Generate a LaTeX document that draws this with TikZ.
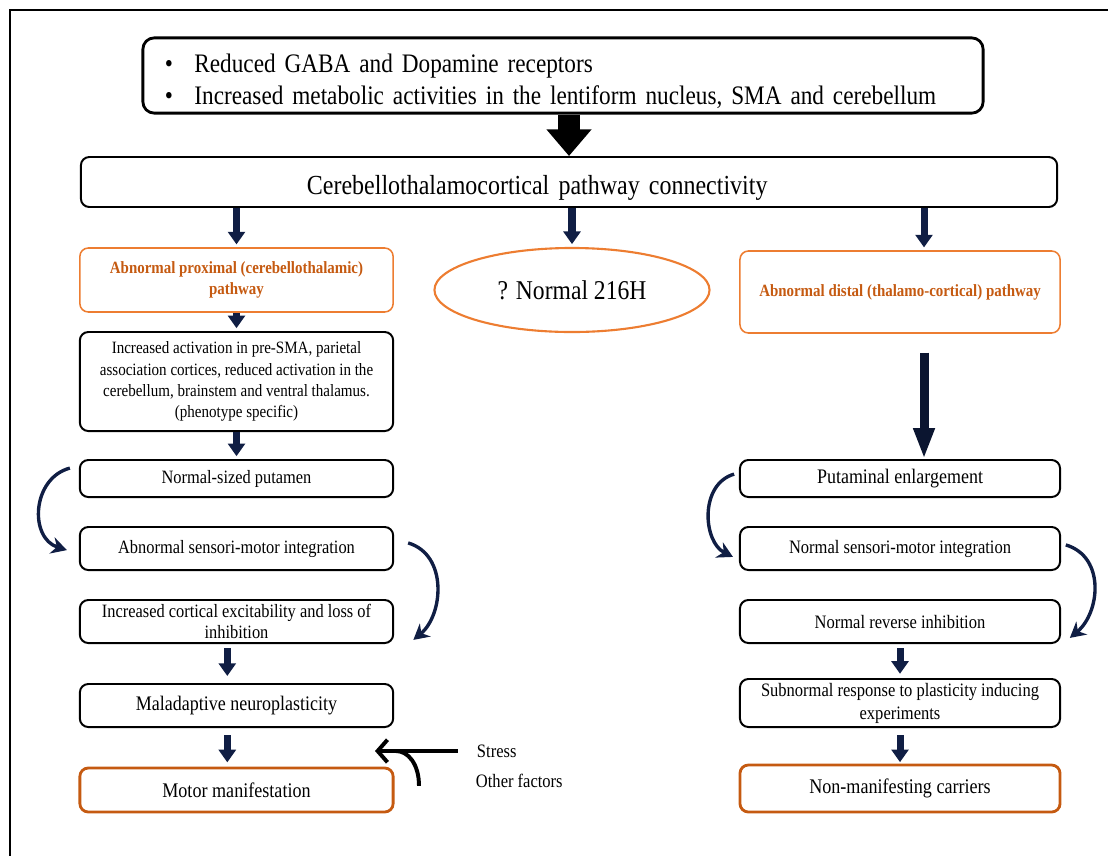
\documentclass[tikz,border=0pt]{standalone}
\usepackage{fontspec}
\setmainfont{Liberation Serif}[FakeStretch=0.87]
\usetikzlibrary{arrows.meta,shapes.geometric}
\definecolor{orangeA}{RGB}{237,125,49}
\definecolor{orangeB}{RGB}{197,90,17}
\definecolor{navyA}{RGB}{16,30,68}
\newcommand{\fs}[1]{\fontsize{#1}{1.2\dimexpr #1pt\relax}\selectfont}
\begin{document}
\begin{tikzpicture}[x=0.025cm,y=-0.025cm,
		box/.style={draw,line width=1.4pt,rounded corners=6pt,align=center,inner sep=2pt,font=\fs{13.4}},
		obox/.style={box,draw=orangeA,line width=1.1pt,text=orangeB,font=\bfseries\fs{12.2}},
		endbox/.style={box,draw=orangeB,line width=2pt,font=\fs{14.8}},
		down/.style={draw=navyA,line width=5pt,-{Triangle[length=9pt,width=12pt]},shorten >=2pt},
		longdown/.style={draw=navyA!70!black,line width=6.4pt,-{Triangle[length=22pt,width=14pt]}},
		bigdown/.style={draw=black,line width=15pt,-{Triangle[length=19pt,width=31pt]}},
		curvearrow/.style={draw=navyA,line width=2.4pt,-{Stealth[length=11pt,width=12pt]}},
		]
		\useasboundingbox (0,0) rectangle (1108,856);
		\draw[line width=2pt] (1108,10) -- (10,10) -- (10,856);
		
		\node[box,line width=2pt,rounded corners=8pt,minimum width=21cm,minimum height=1.88cm,text width=19.9cm,inner xsep=0.5cm,align=left,font=\fontsize{19}{22.7}\selectfont] (top) at (563,75.5) {\rule{0pt}{22pt}\makebox[21pt][l]{\textbullet}Reduced GABA and Dopamine receptors\\\makebox[21pt][l]{\textbullet}Increased metabolic activities in the lentiform nucleus, SMA and cerebellum};
		\node[box,minimum width=24.4cm,minimum height=1.25cm,text width=13.1cm,inner xsep=5.65cm,align=left,text height=22pt,text depth=4pt,font=\fs{19.6}] (cere) at (569,182) {Cerebellothalamocortical pathway connectivity};
		\draw[bigdown] (top.south -| cere.north) -- (cere.north);
		
		\node[obox,minimum width=7.83cm,minimum height=1.6cm] (prox) at (236.5,280) {Abnormal proximal (cerebellothalamic)\\pathway};
		\node[ellipse,draw=orangeA,line width=1.5pt,minimum width=6.875cm,minimum height=2.1cm,font=\fs{19.3}] (q) at (572,290) {? Normal 216H};
		\node[obox,minimum width=8cm,minimum height=2.05cm] (dist) at (900,292) {Abnormal distal (thalamo-cortical) pathway};
		\draw[down] (cere.south -| prox.north) -- (prox.north);
		\draw[down] (cere.south -| q.north) -- (q.north);
		\draw[down] ([xshift=0.6cm]cere.south -| dist.north) -- ([xshift=0.6cm]dist.north);
		
		% left column
		\node[box,minimum width=7.83cm,minimum height=2.475cm,font=\fontsize{12.3}{15.1}\selectfont] (act) at (236.5,381.5) {Increased activation in pre-SMA, parietal\\association cortices, reduced activation in the\\cerebellum, brainstem and ventral thalamus.\\(phenotype specific)};
		\node[box,minimum width=7.83cm,minimum height=0.925cm] (nsp) at (236.5,478.5) {Normal-sized putamen};
		\node[box,minimum width=7.83cm,minimum height=1.075cm] (asm) at (236.5,548.5) {Abnormal sensori-motor integration};
		\node[box,minimum width=7.83cm,minimum height=1.075cm,font=\fontsize{13.4}{14.9}\selectfont] (ice) at (236.5,621.5) {Increased cortical excitability and loss of\\inhibition};
		\node[box,minimum width=7.83cm,minimum height=1.075cm,font=\fs{14.7}] (mal) at (236.5,705.5) {Maladaptive neuroplasticity};
		\node[endbox,minimum width=7.83cm,minimum height=1.1cm] (motor) at (236.5,790) {Motor manifestation};
		\draw[down] (prox.south) -- (act.north);
		\draw[down] (act.south) -- (nsp.north);
		\draw[down,shorten <=3pt,shorten >=5pt] ([xshift=-0.23cm]ice.south) -- ([xshift=-0.23cm]mal.north);
		\draw[down,shorten <=5pt,shorten >=3pt] ([xshift=-0.23cm]mal.south) -- ([xshift=-0.23cm]motor.north);
		\draw[curvearrow] ([xshift=-0.225cm,yshift=0.26cm]nsp.west) .. controls +(-38,10) and +(-38,-12) .. ([xshift=-0.3cm,yshift=-0.04cm]asm.west);
		\draw[curvearrow] ([xshift=0.35cm,yshift=0.14cm]asm.east) .. controls +(40,12) and +(30,-25) .. ([xshift=0.48cm,yshift=-0.46cm]ice.east);
		
		% stress and other factors
		\node[anchor=west,font=\fs{13.5}] (stress) at (472,751) {Stress};
		\node[anchor=west,font=\fs{13.5}] (other) at (471,781) {Other factors};
		\coordinate (tip) at (375,751);
		\coordinate (join) at (396,751);
		\draw[line width=2.8pt,shorten <=10pt,-{Straight Barb[length=7pt,width=16pt]}] (stress.west) -- (tip);
		\draw[line width=2.8pt] ([xshift=-1.3cm,yshift=-0.12cm]other.west) .. controls +(0,-22) and +(12,0) .. (join);
		
		% right column
		\node[box,minimum width=8cm,minimum height=0.925cm,font=\fs{14.7}] (pe) at (900,478.5) {Putaminal enlargement};
		\node[box,minimum width=8cm,minimum height=1.075cm,font=\fs{13.5}] (nsm) at (900,548.5) {Normal sensori-motor integration};
		\node[box,minimum width=8cm,minimum height=1.075cm,font=\fs{13.5}] (nri) at (900,621.5) {Normal reverse inhibition};
		\node[box,minimum width=8cm,minimum height=1.2cm,font=\fontsize{13.5}{16.3}\selectfont] (sub) at (900,703) {Subnormal response to plasticity inducing\\experiments};
		\node[endbox,minimum width=8cm,minimum height=1.175cm] (nmc) at (900,788.5) {Non-manifesting carriers};
		\draw[longdown,shorten <=0.47cm] ([xshift=0.6cm]dist.south) -- ([xshift=0.6cm]pe.north);
		\draw[down,shorten <=3pt,shorten >=3pt] (nri.south) -- (sub.north);
		\draw[down,shorten <=5pt,shorten >=1pt] (sub.south) -- (nmc.north);
		\draw[curvearrow] ([xshift=-0.12cm,yshift=0.11cm]pe.west) .. controls +(-35,10) and +(-30,-15) .. ([xshift=-0.15cm,yshift=-0.21cm]nsm.west);
		\draw[curvearrow] ([xshift=0.12cm,yshift=0.09cm]nsm.east) .. controls +(40,12) and +(30,-25) .. ([xshift=0.22cm,yshift=-0.41cm]nri.east);
		
\end{tikzpicture}
\end{document}
